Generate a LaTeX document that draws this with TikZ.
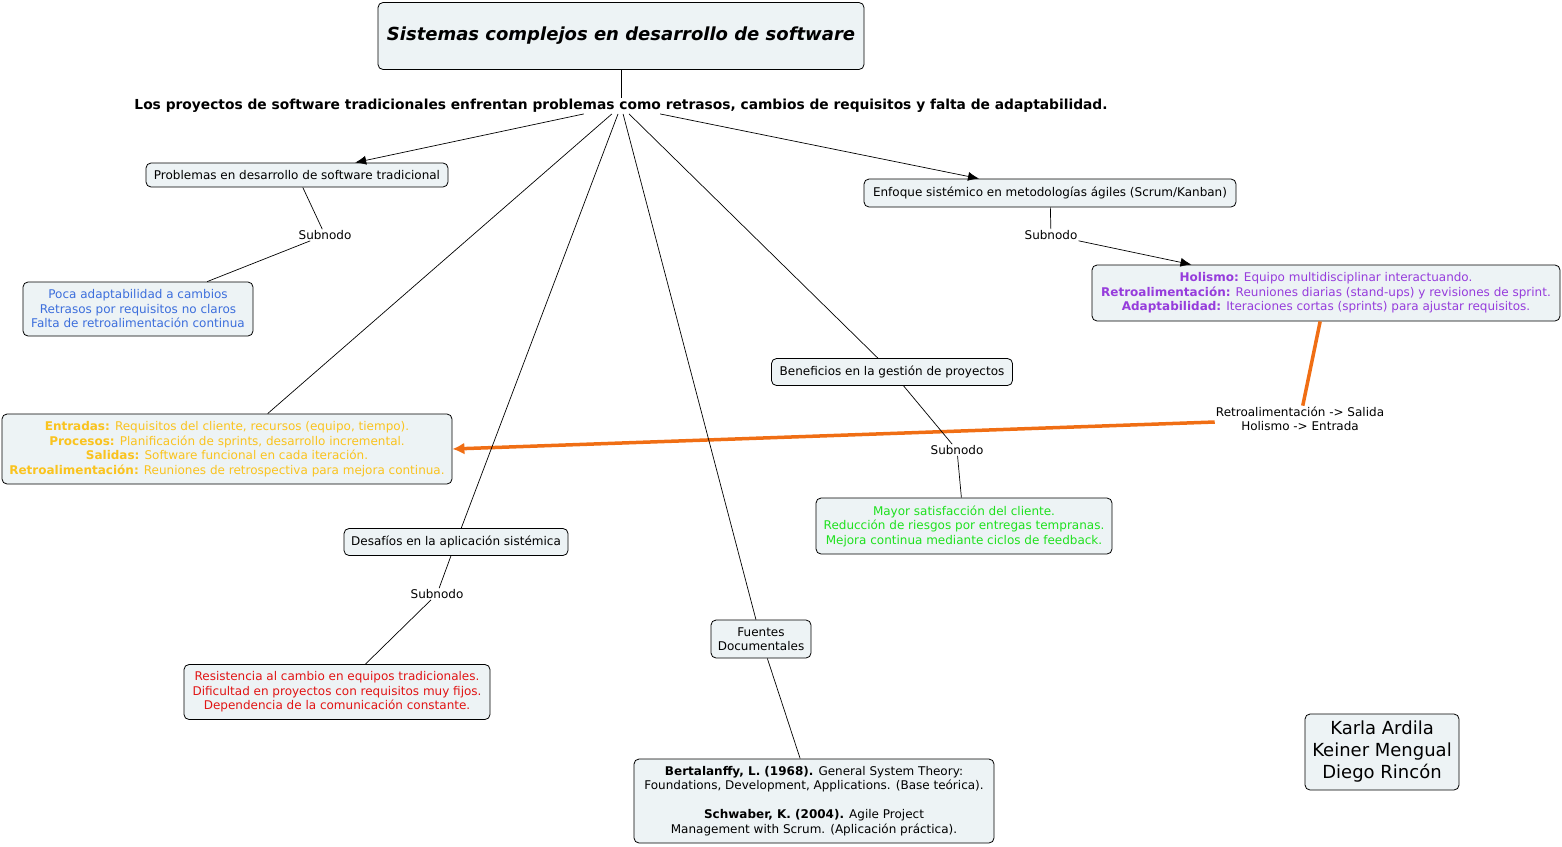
\documentclass[tikz,border=0pt]{standalone}
\usepackage{fontspec}
\setmainfont{DejaVu Sans}
\usepackage{tikz}
\usetikzlibrary{arrows.meta,positioning,calc}
\definecolor{boxfill}{RGB}{237,243,245}
\definecolor{cmblue}{RGB}{60,110,220}
\definecolor{cmgold}{RGB}{250,195,30}
\definecolor{cmpurple}{RGB}{150,60,220}
\definecolor{cmgreen}{RGB}{30,225,30}
\definecolor{cmred}{RGB}{225,20,20}
\definecolor{cmorange}{RGB}{240,110,20}

\begin{document}
\begin{tikzpicture}[x=1pt,y=-1pt,
    concept/.style={draw,rounded corners=5pt,fill=boxfill,align=center,line width=0.8pt,
        inner sep=2pt,font=\fontsize{12}{14.5}\selectfont},
    linkword/.style={align=center,inner sep=1pt,font=\fontsize{12}{14.5}\selectfont},
    conn/.style={line width=0.7pt},
    connarrow/.style={line width=0.7pt,-{Latex[length=11pt,width=9pt]}},
    feedback/.style={cmorange,line width=3.5pt},
    feedarrow/.style={cmorange,line width=3.5pt,-{Latex[length=12pt,width=12pt]}}]
    \useasboundingbox (0,0) rectangle (1562,846);

    % Main concept
    \node[concept,minimum width=486pt,minimum height=67pt,
        font=\fontsize{18}{21}\selectfont\bfseries\itshape] (title) at (621,36)
        {Sistemas complejos en desarrollo de software};
    \node[linkword,font=\fontsize{13.8}{16}\selectfont\bfseries] (intro) at (621,106)
        {Los proyectos de software tradicionales enfrentan problemas como retrasos, cambios de requisitos y falta de adaptabilidad.};
    \draw[conn] (title) -- (intro);

    % Traditional problems branch
    \node[concept,minimum width=302pt,minimum height=24pt] (problemas) at (297,175)
        {Problemas en desarrollo de software tradicional};
    \node[linkword] (subprob) at (325,235) {Subnodo};
    \node[concept,minimum width=230pt,minimum height=54pt,text=cmblue] (poca) at (138,309)
        {Poca adaptabilidad a cambios\\Retrasos por requisitos no claros\\Falta de retroalimentación continua};
    \draw[connarrow] (intro) -- (problemas);
    \draw[conn] (problemas) -- (subprob) -- (poca);

    % Agile approach branch
    \node[concept,minimum width=372pt,minimum height=28pt] (enfoque) at (1050,193)
        {Enfoque sistémico en metodologías ágiles (Scrum/Kanban)};
    \node[linkword] (subenf) at (1051,235) {Subnodo};
    \node[concept,minimum width=468pt,minimum height=56pt,text=cmpurple] (holismo) at (1326,293)
        {\textbf{Holismo:} Equipo multidisciplinar interactuando.\\
         \textbf{Retroalimentación:} Reuniones diarias (stand-ups) y revisiones de sprint.\\
         \textbf{Adaptabilidad:} Iteraciones cortas (sprints) para ajustar requisitos.};
    \draw[connarrow] (intro) -- (enfoque);
    \draw[conn] (enfoque) -- (subenf);
    \draw[connarrow] (subenf) -- (holismo);

    % System view
    \node[concept,minimum width=450pt,minimum height=70pt,text=cmgold] (entradas) at (227,449)
        {\textbf{Entradas:} Requisitos del cliente, recursos (equipo, tiempo).\\
         \textbf{Procesos:} Planificación de sprints, desarrollo incremental.\\
         \textbf{Salidas:} Software funcional en cada iteración.\\
         \textbf{Retroalimentación:} Reuniones de retrospectiva para mejora continua.};
    \node[linkword] (mapeo) at (1300,419) {Retroalimentación -> Salida\\Holismo -> Entrada};
    \draw[conn] (intro) -- (entradas);
    \draw[feedback] (holismo) -- (mapeo);
    \draw[feedarrow] (mapeo) -- (entradas.east);

    % Benefits branch
    \node[concept,minimum width=241pt,minimum height=27pt] (beneficios) at (892,372)
        {Beneficios en la gestión de proyectos};
    \node[linkword] (subben) at (957,450) {Subnodo};
    \node[concept,minimum width=296pt,minimum height=56pt,text=cmgreen] (mayor) at (964,526)
        {Mayor satisfacción del cliente.\\Reducción de riesgos por entregas tempranas.\\Mejora continua mediante ciclos de feedback.};
    \draw[conn] (intro) -- (beneficios);
    \draw[conn] (beneficios) -- (subben) -- (mayor);

    % Challenges branch
    \node[concept,minimum width=224pt,minimum height=27pt] (desafios) at (456,542)
        {Desafíos en la aplicación sistémica};
    \node[linkword] (subdes) at (437,594) {Subnodo};
    \node[concept,minimum width=306pt,minimum height=55pt,text=cmred] (resistencia) at (337,692)
        {Resistencia al cambio en equipos tradicionales.\\Dificultad en proyectos con requisitos muy fijos.\\Dependencia de la comunicación constante.};
    \draw[conn] (intro) -- (desafios);
    \draw[conn] (desafios) -- (subdes) -- (resistencia);

    % Sources
    \node[concept,minimum width=100pt,minimum height=38pt] (fuentes) at (761,639)
        {Fuentes\\Documentales};
    \node[concept,minimum width=360pt,minimum height=84pt] (refs) at (814,801)
        {\textbf{Bertalanffy, L. (1968).} General System Theory:\\
         Foundations, Development, Applications. (Base teórica).\\[14.5pt]
         \textbf{Schwaber, K. (2004).} Agile Project\\
         Management with Scrum. (Aplicación práctica).};
    \draw[conn] (intro) -- (fuentes);
    \draw[conn] (fuentes) -- (refs);

    % Authors
    \node[concept,minimum width=154pt,minimum height=76pt,
        font=\fontsize{18}{22}\selectfont] (autores) at (1382,752)
        {Karla Ardila\\Keiner Mengual\\Diego Rincón};
\end{tikzpicture}
\end{document}
